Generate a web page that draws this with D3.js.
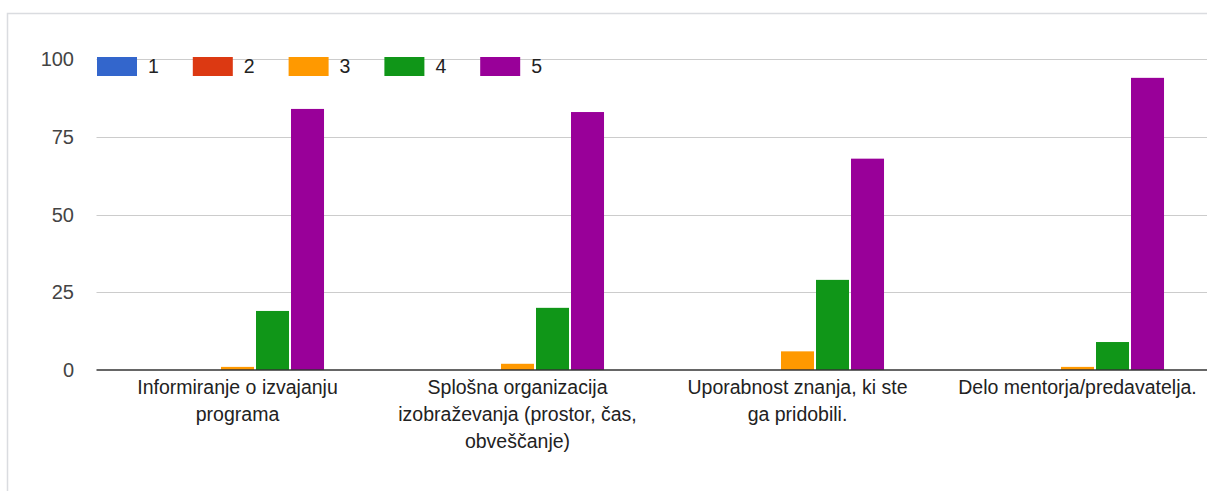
<!DOCTYPE html>
<html>
<head>
<meta charset="utf-8">
<script src="https://cdn.jsdelivr.net/npm/d3@7"></script>
<style>
  html, body { margin: 0; padding: 0; background: #fff; }
  svg { display: block; font-family: "Liberation Sans", Arial, sans-serif; }
</style>
</head>
<body>
<svg id="chart" width="1207" height="491"></svg>
<script>
const categories = [
  ["Informiranje o izvajanju", "programa"],
  ["Splošna organizacija", "izobraževanja (prostor, čas,", "obveščanje)"],
  ["Uporabnost znanja, ki ste", "ga pridobili."],
  ["Delo mentorja/predavatelja."]
];
const seriesNames = ["1", "2", "3", "4", "5"];
const seriesColors = ["#3366cc", "#dc3912", "#ff9900", "#109618", "#990099"];
const values1 = [0, 0, 0, 0];
const values2 = [0, 0, 0, 0];
const values3 = [1, 2, 6, 1];
const values4 = [19, 20, 29, 9];
const values5 = [84, 83, 68, 94];
const yTicks = [0, 25, 50, 75, 100];

const seriesValues = [values1, values2, values3, values4, values5];
const catKeys = categories.map(c => c.join(" "));

const svg = d3.select("#chart");

// card border
svg.append("rect")
  .attr("x", 7.5).attr("y", 13.5)
  .attr("width", 1400).attr("height", 600)
  .attr("fill", "none").attr("stroke", "#dadce0").attr("stroke-width", 1.5);

const plotLeft = 97.5, plotRight = 1217.5;
const y = d3.scaleLinear().domain([0, 100]).range([370, 59.2]);
const x0 = d3.scaleBand().domain(catKeys).range([plotLeft, plotRight])
  .paddingInner(0.382).paddingOuter(0.191);
const x1 = d3.scaleBand().domain(seriesNames).range([0, x0.bandwidth()])
  .paddingInner(0.057).paddingOuter(0);

// gridlines
svg.append("g").selectAll("line").data(yTicks.filter(t => t !== 0)).join("line")
  .attr("x1", plotLeft - 1).attr("x2", 1207)
  .attr("y1", d => Math.round(y(d)) + 0.5).attr("y2", d => Math.round(y(d)) + 0.5)
  .attr("stroke", "#cccccc").attr("stroke-width", 1);

// y tick labels
svg.append("g").selectAll("text").data(yTicks).join("text")
  .attr("x", 74).attr("y", d => y(d))
  .attr("dy", "0.35em")
  .attr("text-anchor", "end")
  .attr("font-size", 20).attr("fill", "#444")
  .text(d => d);

// bars
const groups = svg.append("g").selectAll("g").data(catKeys).join("g")
  .attr("transform", d => `translate(${x0(d)},0)`);
groups.selectAll("rect")
  .data((d, ci) => seriesNames.map((s, si) => ({ s, si, v: seriesValues[si][ci] })))
  .join("rect")
  .attr("x", d => x1(d.s))
  .attr("width", x1.bandwidth())
  .attr("y", d => y(d.v))
  .attr("height", d => y(0) - y(d.v))
  .attr("fill", d => seriesColors[d.si]);

// baseline
svg.append("line")
  .attr("x1", plotLeft - 1).attr("x2", 1207)
  .attr("y1", 370).attr("y2", 370)
  .attr("stroke", "#333").attr("stroke-width", 1.5);

// category labels
const labelG = svg.append("g").selectAll("text").data(categories).join("text")
  .attr("text-anchor", "middle")
  .attr("font-size", 19.5).attr("fill", "#222")
  .attr("transform", (d, i) => `translate(${x0(catKeys[i]) + x0.bandwidth() / 2},0)`);
labelG.selectAll("tspan").data(d => d).join("tspan")
  .attr("x", 0)
  .attr("y", (d, i) => 394 + i * 27)
  .text(d => d);

// legend
const legend = svg.append("g").selectAll("g").data(seriesNames).join("g")
  .attr("transform", (d, i) => `translate(${97 + i * 95.8},57)`);
legend.append("rect")
  .attr("width", 40).attr("height", 19)
  .attr("fill", (d, i) => seriesColors[i]);
legend.append("text")
  .attr("x", 51).attr("y", 9.5).attr("dy", "0.35em")
  .attr("font-size", 19.5).attr("fill", "#222")
  .text(d => d);
</script>
</body>
</html>
